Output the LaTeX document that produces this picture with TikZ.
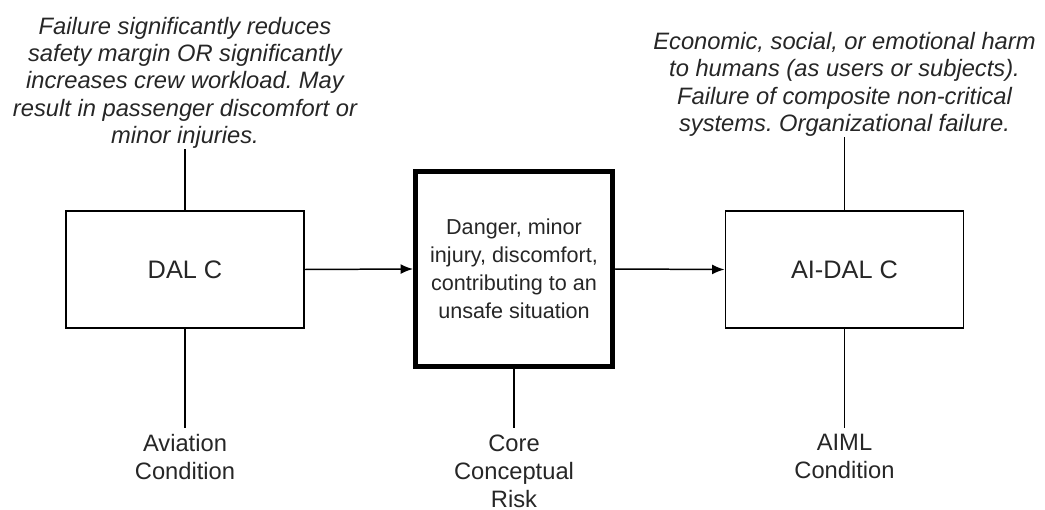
\documentclass[tikz,border=0pt]{standalone}
\usepackage{fontspec}
\setmainfont{Liberation Sans}
\usetikzlibrary{arrows.meta, positioning}
\frenchspacing

\begin{document}
\begin{tikzpicture}[
    x=0.02cm, y=-0.02cm,
    box/.style={rectangle, draw=black, line width=0.85pt, minimum width=4.77cm, minimum height=2.35cm,
                font=\fontsize{14.4}{17}\selectfont, text=black!85},
    riskbox/.style={rectangle, draw=black, line width=2.83pt, minimum width=3.94cm, minimum height=3.9cm,
                    align=center, font=\fontsize{12.3}{16}\selectfont, text=black!85},
    note/.style={align=center, inner sep=0pt, font=\itshape\fontsize{13.5}{15.6}\selectfont, text=black!85},
    cond/.style={align=center, inner xsep=0pt, inner ysep=3.5pt, font=\fontsize{13.5}{16}\selectfont, text=black!85},
    arrowstyle/.style={-{Latex[length=0.25cm, width=0.2cm]}, line width=0.85pt},
    stem/.style={line width=0.85pt},
]
\useasboundingbox (0,0) rectangle (1045,510);

%% Main row
\node[box] (dal) at (185,269.5) {DAL C};
\node[riskbox] (risk) at (514,269) {Danger, minor\\injury, discomfort,\\contributing to an\\unsafe situation};
\node[box] (aidal) at (844.5,269.5) {AI-DAL C};

\draw[arrowstyle] (dal.east) -- (risk.west);
\draw[arrowstyle] (risk.east) -- (aidal.west);

%% Notes above
\node[note, above=1.22cm of dal] (dalnote) {Failure significantly reduces\\safety margin OR significantly\\increases crew workload. May\\result in passenger discomfort or\\minor injuries.};
\node[note, above=1.46cm of aidal] (ainote) {Economic, social, or emotional harm\\to humans (as users or subjects).\\Failure of composite non-critical\\systems. Organizational failure.};

%% Conditions below
\node[cond, below=1.98cm of dal] (dalcond) {Aviation\\Condition};
\node[cond, below=1.18cm of risk] (riskcond) {Core\\Conceptual\\Risk};
\node[cond, below=1.98cm of aidal] (aicond) {AIML\\Condition};

\foreach \from/\to in {dalnote/dal, ainote/aidal, dal/dalcond, risk/riskcond, aidal/aicond}
    \draw[stem] (\from) -- (\to);

\end{tikzpicture}
\end{document}
